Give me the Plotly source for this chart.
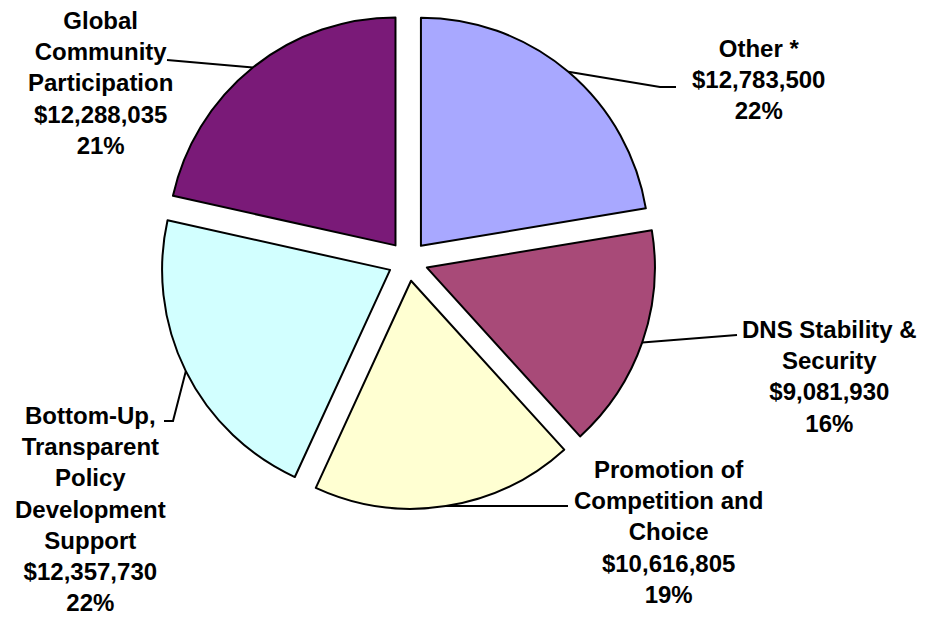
import math
import plotly.graph_objects as go

# ---- data ----
categories = [
    "Other *",
    "DNS Stability &<br>Security",
    "Promotion of<br>Competition and<br>Choice",
    "Bottom-Up,<br>Transparent<br>Policy<br>Development<br>Support",
    "Global<br>Community<br>Participation",
]
values = [12783500, 9081930, 10616805, 12357730, 12288035]
percent_labels = ["22%", "16%", "19%", "22%", "21%"]
colors = ["#A8A8FF", "#A84A78", "#FFFFD2", "#D2FFFF", "#7A1A78"]

# ---- layout geometry (pixels) ----
W, H = 926, 621
CX, CY = 408, 261          # pie centre
R = 228                    # slice radius
PULL = 20 / 228            # explode fraction
HALF = R * (1 + PULL)      # half domain size

# label block centres and leader-line bend points (pixels)
label_pos = [(758, 79), (829, 376), (668, 532), (90, 509), (100, 83)]
leader_pts = [
    [(660, 87), (676, 87)],
    [(737, 335)],
    [(568, 506)],
    [(173, 421), (164, 421)],
    [(167, 60)],
]


def px(x):
    return x / W


def py(y):
    return 1 - y / H


fig = go.Figure(
    go.Pie(
        labels=[c.replace("<br>", " ") for c in categories],
        values=values,
        sort=False,
        direction="clockwise",
        rotation=0,
        pull=[PULL] * len(values),
        marker=dict(colors=colors, line=dict(color="black", width=2)),
        textinfo="none",
        showlegend=False,
        domain=dict(x=[px(CX - HALF), px(CX + HALF)],
                    y=[py(CY + HALF), py(CY - HALF)]),
    )
)

total = sum(values)
cum = 0
annotations = []
shapes = []
for i, v in enumerate(values):
    mid = (cum + v / 2) / total * 2 * math.pi
    cum += v
    hx = CX + HALF * math.sin(mid)
    hy = CY - HALF * math.cos(mid)
    pts = [(hx, hy)] + leader_pts[i]
    path = "M " + " L ".join(f"{px(x):.5f},{py(y):.5f}" for x, y in pts)
    shapes.append(dict(type="path", xref="paper", yref="paper", path=path,
                       line=dict(color="black", width=2)))
    txt = f"{categories[i]}<br>${v:,}<br>{percent_labels[i]}"
    lx, ly = label_pos[i]
    annotations.append(dict(
        x=px(lx), y=py(ly), xref="paper", yref="paper",
        text=txt, showarrow=False, align="center",
        xanchor="center", yanchor="middle",
        font=dict(family="Liberation Sans, Arial, sans-serif", size=24,
                  color="black", weight="bold"),
    ))

fig.update_layout(
    width=W, height=H,
    margin=dict(l=0, r=0, t=0, b=0),
    paper_bgcolor="white",
    plot_bgcolor="white",
    annotations=annotations,
    shapes=shapes,
)

fig.write_html("out.html",
               config={"displayModeBar": False},
               post_script="document.body.style.margin='0';document.body.style.padding='0';")
